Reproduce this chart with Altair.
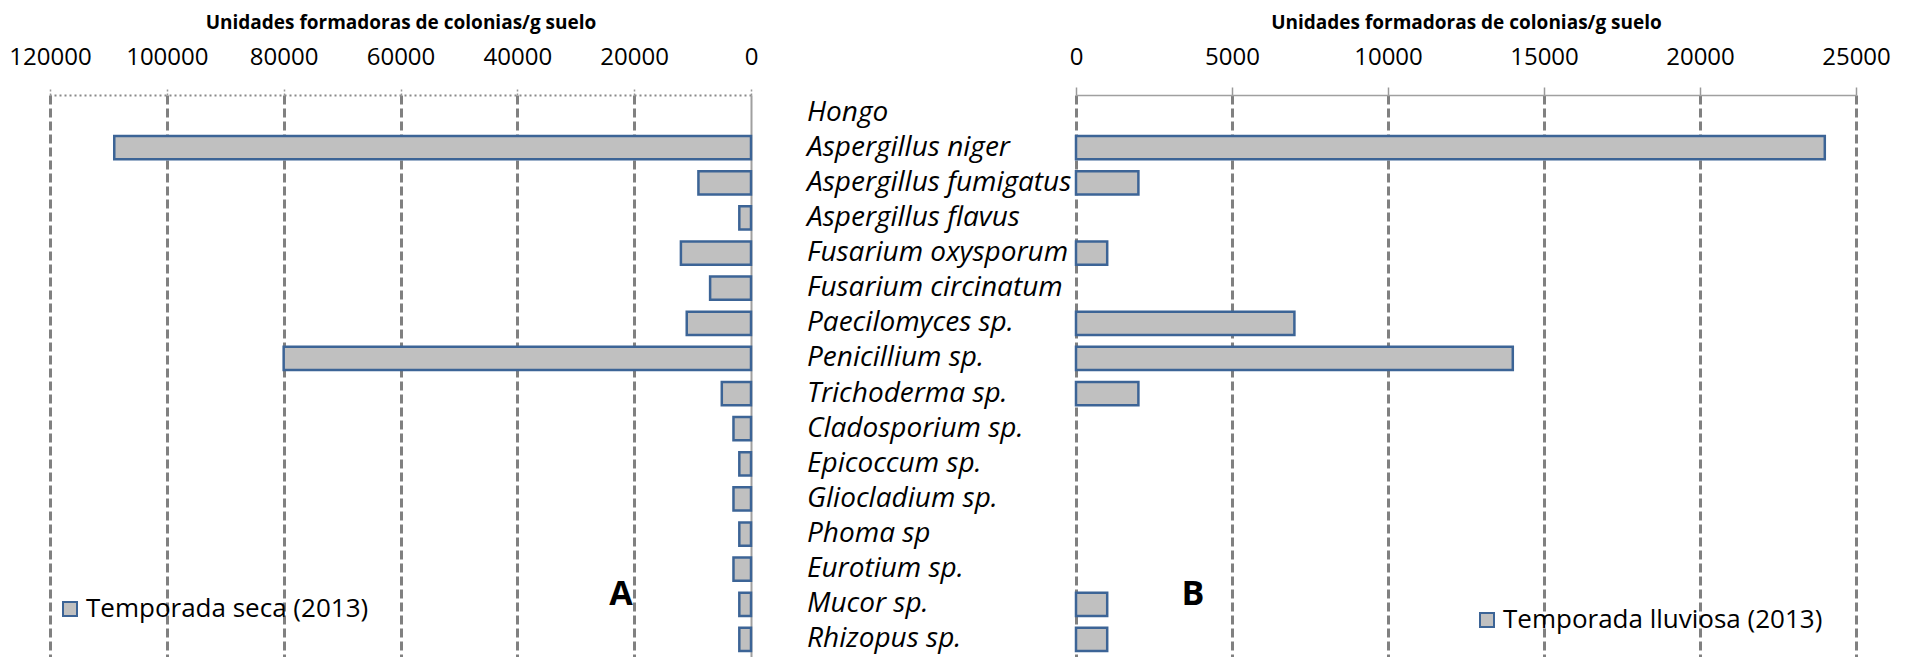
import altair as alt
import pandas as pd

hongos = ["Hongo", "Aspergillus niger", "Aspergillus fumigatus", "Aspergillus flavus",
          "Fusarium oxysporum", "Fusarium circinatum", "Paecilomyces sp.", "Penicillium sp.",
          "Trichoderma sp.", "Cladosporium sp.", "Epicoccum sp.", "Gliocladium sp.",
          "Phoma sp", "Eurotium sp.", "Mucor sp.", "Rhizopus sp."]
seca = [None, 109000, 9000, 2000, 12000, 7000, 11000, 80000, 5000, 3000, 2000, 3000,
        2000, 3000, 2000, 2000]
lluviosa = [None, 24000, 2000, None, 1000, None, 7000, 14000, 2000, None, None, None,
            None, None, 1000, 1000]
ticks_seca = [0, 20000, 40000, 60000, 80000, 100000, 120000]
ticks_lluviosa = [0, 5000, 10000, 15000, 20000, 25000]
serie_seca = "Temporada seca (2013)"
serie_lluviosa = "Temporada lluviosa (2013)"
eje_titulo = "Unidades formadoras de colonias/g suelo"

FONT = "Open Sans"
W_L, W_M, W_R, H = 701, 325, 780, 562
GRID = "#808080"
EDGE = "#3c6496"
FILLC = "#c0c0c0"

df_seca = pd.DataFrame({"hongo": hongos, "ufc": seca, "serie": serie_seca}).dropna()
df_lluv = pd.DataFrame({"hongo": hongos, "ufc": lluviosa, "serie": serie_lluviosa}).dropna()

yscale = alt.Scale(domain=hongos, paddingInner=0.34, paddingOuter=0.17)


def x_axis(values, title, dotted):
    kw = dict(orient="top", values=values, format="d", title=title,
              grid=True, gridDash=[9, 4], gridColor=GRID, gridWidth=3,
              tickSize=8, tickColor="#999999", tickWidth=1.5,
              labelFontSize=24, labelFont=FONT, labelColor="#000000",
              labelPadding=30, labelBaseline="middle", labelFlush=False,
              labelOverlap=False,
              titleFont=FONT, titleFontSize=19, titleFontWeight="bold",
              titleColor="#000000", titleY=-73, titleBaseline="middle")
    if dotted:
        kw.update(domainDash=[2, 3], domainColor="#8a8a8a", domainWidth=2,
                  tickDash=[2, 2],
                  gridOpacity={"condition": {"test": "datum.value === 0", "value": 0},
                               "value": 1})
    else:
        kw.update(domainColor="#a0a0a0", domainWidth=1.5)
    return alt.Axis(**kw)


def legend(x, y):
    return alt.Legend(orient="none", legendX=x, legendY=y, title=None,
                      symbolType="square", symbolSize=196,
                      symbolStrokeColor=EDGE, symbolStrokeWidth=2,
                      labelFont=FONT, labelFontSize=26, labelColor="#000000",
                      labelOffset=3, labelLimit=0, padding=0)


bars_l = alt.Chart(df_seca).mark_bar(stroke=EDGE, strokeWidth=2.5).encode(
    x=alt.X("ufc:Q", scale=alt.Scale(domain=[0, 120000], reverse=True, nice=False, zero=True),
            axis=x_axis(ticks_seca, eje_titulo, True)),
    y=alt.Y("hongo:N", scale=yscale, sort=hongos,
            axis=alt.Axis(orient="right", labels=False, ticks=False, domain=True,
                          domainColor="#a0a0a0", domainWidth=2, title=None, grid=False)),
    fill=alt.Fill("serie:N", scale=alt.Scale(range=[FILLC]), legend=legend(7, 501)),
)
letra_a = alt.Chart(pd.DataFrame({"t": ["A"]})).mark_text(
    font=FONT, fontSize=34, fontWeight="bold", align="center", baseline="middle",
    color="#000000").encode(text="t:N", x=alt.value(571), y=alt.value(500))
left = alt.layer(bars_l, letra_a).properties(width=W_L, height=H)

mid = alt.Chart(pd.DataFrame({"hongo": hongos})).mark_text(
    align="left", baseline="middle", font=FONT, fontSize=28, fontStyle="italic",
    color="#000000").encode(
    y=alt.Y("hongo:N", scale=yscale, sort=hongos, axis=None),
    x=alt.value(56),
    text="hongo:N",
).properties(width=W_M, height=H)

bars_r = alt.Chart(df_lluv).mark_bar(stroke=EDGE, strokeWidth=2.5).encode(
    x=alt.X("ufc:Q", scale=alt.Scale(domain=[0, 25000], nice=False, zero=True),
            axis=x_axis(ticks_lluviosa, eje_titulo, False)),
    y=alt.Y("hongo:N", scale=yscale, sort=hongos, axis=None),
    fill=alt.Fill("serie:N", scale=alt.Scale(range=[FILLC]), legend=legend(398, 512)),
)
letra_b = alt.Chart(pd.DataFrame({"t": ["B"]})).mark_text(
    font=FONT, fontSize=34, fontWeight="bold", align="center", baseline="middle",
    color="#000000").encode(text="t:N", x=alt.value(117), y=alt.value(500))
right = alt.layer(bars_r, letra_b).properties(width=W_R, height=H)

chart = alt.hconcat(left, mid, right, spacing=0, bounds="flush").resolve_scale(
    x="independent", y="independent", fill="independent"
).resolve_legend(fill="independent").properties(
    padding={"left": 0, "top": 5, "right": 0, "bottom": 0},
    background="white",
).configure_view(stroke=None)

chart.save("out.html", embed_options={"renderer": "svg", "actions": False})
